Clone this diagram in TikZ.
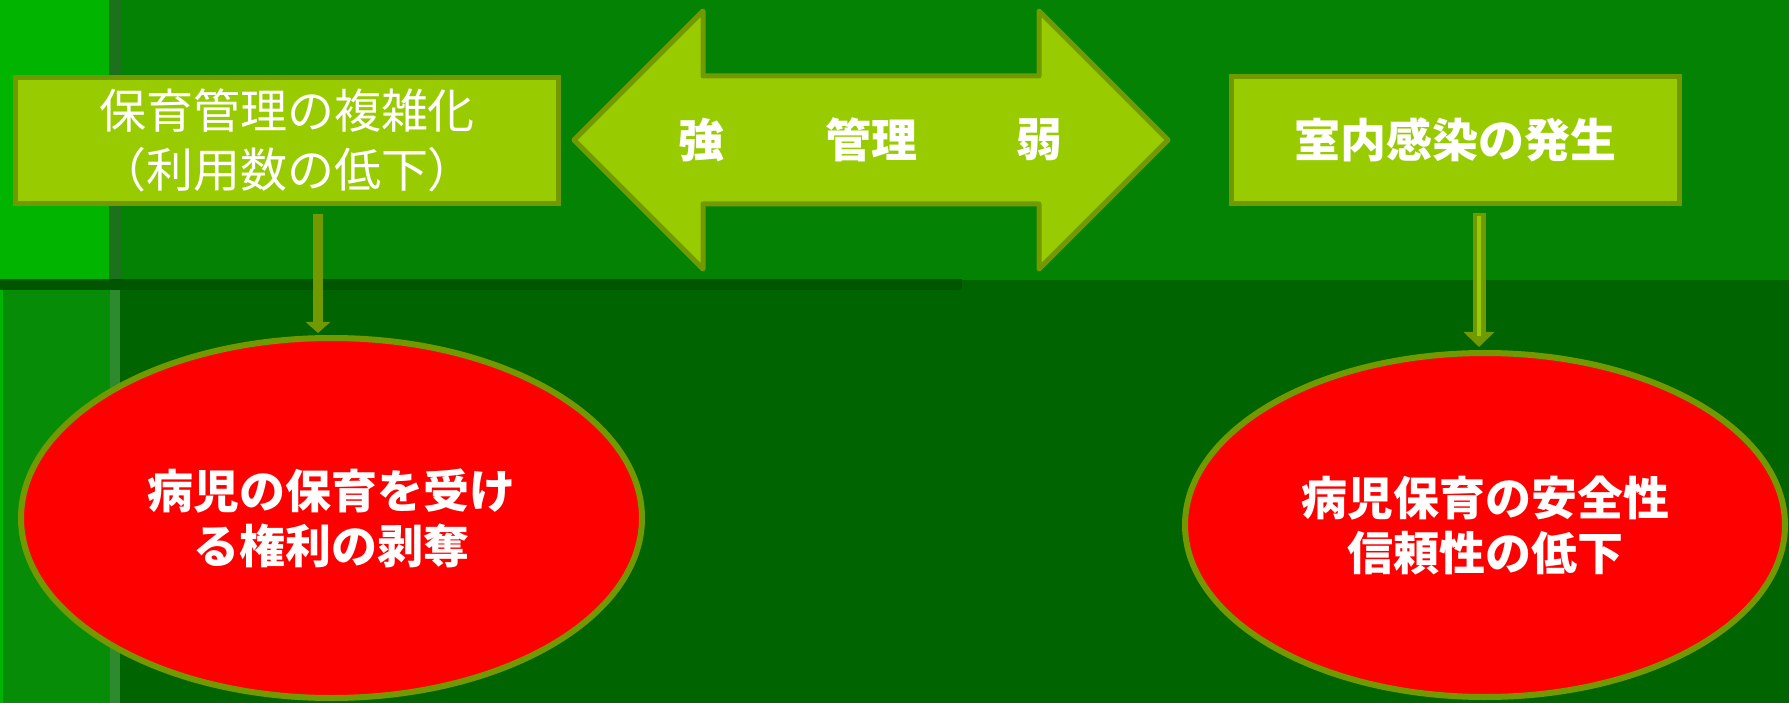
\documentclass[tikz,border=0pt]{standalone}
\usepackage{fontspec}
\newfontfamily\cjk{Noto Sans CJK JP}
\usetikzlibrary{shapes.geometric,arrows.meta}
\definecolor{bglow}{HTML}{006400}
\definecolor{bgtop}{HTML}{048204}
\definecolor{bright}{HTML}{00B400}
\definecolor{stripe}{HTML}{1C721C}
\definecolor{lowstripe}{HTML}{2E8A2E}
\definecolor{darkline}{HTML}{005600}
\definecolor{lowleft}{HTML}{078C07}
\definecolor{boxfill}{HTML}{99CC00}
\definecolor{olive}{HTML}{729A00}
\definecolor{ellred}{HTML}{FF0000}
\tikzset{
  box/.style={draw=olive, fill=boxfill, line width=5pt, inner sep=0pt, outer sep=0pt, align=center, text=white},
  ell/.style={ellipse, draw=olive, fill=ellred, line width=6pt, inner sep=0pt, outer sep=0pt, align=center, text=white},
  bigtxt/.style={font=\cjk\fontsize{47}{59}\selectfont},
  boldtxt/.style={font=\cjk\bfseries\fontsize{46}{55}\selectfont},
  arrtxt/.style={text=white, inner sep=0pt, font=\cjk\bfseries\fontsize{46}{55}\selectfont},
  solidconn/.style={draw=olive, line width=10pt, -{Triangle[width=24pt,length=11pt]}},
  hollowconn/.style={draw=olive, line width=13pt, -{Triangle[width=30pt,length=15pt]}},
  hollowinner/.style={draw=boxfill, line width=4pt},
}
\begin{document}
\begin{tikzpicture}[x=1pt,y=-1pt]
\useasboundingbox (0,0) rectangle (1789,703);
\clip (0,0) rectangle (1789,703);
% background
\fill[bglow] (0,0) rectangle (1789,703);
\fill[bgtop] (0,0) rectangle (1789,280);
\fill[bright] (0,0) rectangle (109,279);
\fill[stripe] (109,0) rectangle (122,279);
\fill[darkline] (0,279) rectangle (962,290);
\fill[lowleft] (0,290) rectangle (110,703);
\fill[bright] (0,290) rectangle (3,703);
\fill[lowstripe] (110,290) rectangle (120,703);

% boxes
\node[box, bigtxt, minimum width=543pt, minimum height=126pt] (boxL) at (287,140.5)
  {保育管理の複雑化\\（利用数の低下）};
\node[box, boldtxt, minimum width=448pt, minimum height=127pt] (boxR) at (1455.5,140)
  {室内感染の発生};

% double arrow
\draw[draw=olive, fill=boxfill, line width=5pt, line join=round]
  (574,140) -- (703,11) -- (703,76) -- (1039,76) -- (1039,11) -- (1168,140)
  -- (1039,269) -- (1039,204) -- (703,204) -- (703,269) -- cycle;
\node[arrtxt] (tStrong) at (701,140) {強};
\node[arrtxt] (tMgmt) at (871,140) {管理};
\node[arrtxt] (tWeak) at (1039,140) {弱};

% ellipses
\node[ell, boldtxt, minimum width=621pt, minimum height=360pt] (ellL) at (331.5,518)
  {病児の保育を受け\\る権利の剥奪};
\node[ell, boldtxt, minimum width=600pt, minimum height=344pt] (ellR) at (1485,525)
  {病児保育の安全性\\信頼性の低下};

% connectors
\coordinate (aL) at (318,214);
\draw[solidconn] (aL) -- (318,333);
\coordinate (aR) at (1479,213);
\draw[hollowconn] (aR) -- (1479,347);
\draw[hollowinner] (1479,216) -- (1479,336);
\end{tikzpicture}
\end{document}
